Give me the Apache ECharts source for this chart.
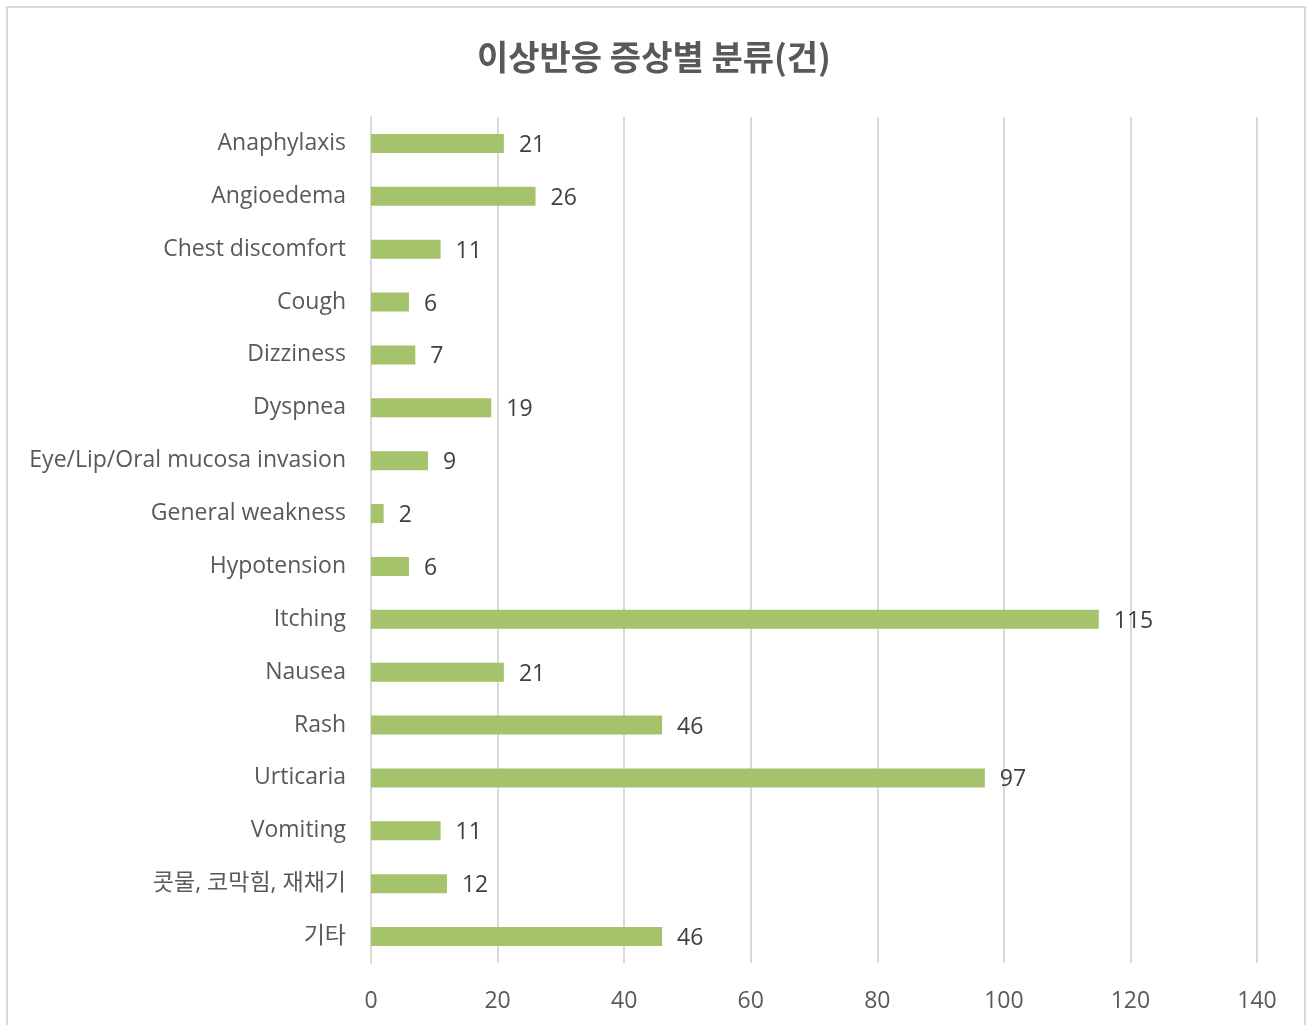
<!DOCTYPE html>
<html><head><meta charset="utf-8">
<script src="https://cdn.jsdelivr.net/npm/echarts@6/dist/echarts.min.js"></script>
<style>
html,body{margin:0;padding:0;background:#fff;overflow:hidden;}
#frame{position:absolute;left:6px;top:6px;width:1300px;height:1040px;border:2px solid #d9d9d9;box-sizing:border-box;}
#c{position:absolute;left:0;top:0;width:1308px;height:1025px;}
</style></head>
<body>
<div id="frame"></div>
<div id="c"></div>
<script>
const titleText = '이상반응 증상별 분류(건)';
const categories = ['Anaphylaxis','Angioedema','Chest discomfort','Cough','Dizziness','Dyspnea','Eye/Lip/Oral mucosa invasion','General weakness','Hypotension','Itching','Nausea','Rash','Urticaria','Vomiting','콧물, 코막힘, 재채기','기타'];
const values = [21,26,11,6,7,19,9,2,6,115,21,46,97,11,12,46];
const xTicks = {min:0, max:140, interval:20};

const font = '"Segoe UI","Open Sans","Noto Sans","Noto Sans CJK KR",sans-serif';
const chart = echarts.init(document.getElementById('c'), null, {renderer:'canvas'});
chart.setOption({
  animation:false,
  title:{text:titleText,left:'center',top:35,textStyle:{fontFamily:'"Noto Sans CJK KR",sans-serif',fontSize:34,fontWeight:'bold',color:'#595959'}},
  grid:{left:371,right:51,top:117,bottom:62,containLabel:false},
  xAxis:{type:'value',min:xTicks.min,max:xTicks.max,interval:xTicks.interval,
    axisLine:{show:false},axisTick:{show:false},
    splitLine:{lineStyle:{color:'#d9d9d9',width:2}},
    axisLabel:{fontFamily:font,fontSize:23,color:'#595959',margin:27}},
  yAxis:{type:'category',data:categories,inverse:true,
    axisLine:{show:true,lineStyle:{color:'#d9d9d9',width:2}},axisTick:{show:false},
    axisLabel:{fontFamily:font,fontSize:23,color:'#595959',margin:25,padding:[2,0,0,0]}},
  series:[{type:'bar',data:values,barWidth:19,
    itemStyle:{color:'#a5c36a'},
    label:{show:true,position:'right',distance:15,offset:[0,2],fontFamily:font,fontSize:23,color:'#404040'}}]
});
</script>
</body></html>
